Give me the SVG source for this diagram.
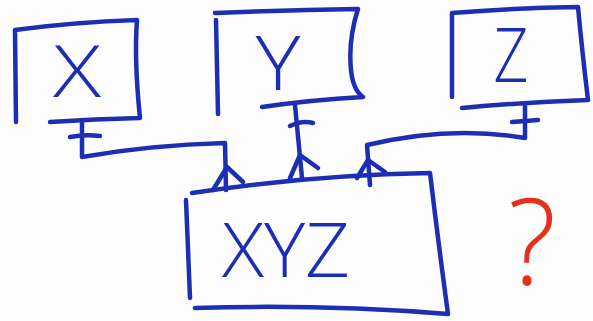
<svg xmlns="http://www.w3.org/2000/svg" width="593" height="321" viewBox="0 0 593 321">
<style>
.s{fill:none;stroke:#1c2fb4;stroke-width:4.5;stroke-linecap:round;stroke-linejoin:round}
.t{fill:#1c2fb4;font-family:"Open Sans","Liberation Sans",Arial,sans-serif;font-weight:300;text-anchor:middle}
.q{fill:#e5301c;font-family:"Open Sans","Liberation Sans",sans-serif;font-weight:300;text-anchor:middle}
</style>
<rect width="593" height="321" fill="#fdfdfd"/>
<g id="nodeX">
<path class="s" d="M16,122 L15,30 Q75,22 137,20 Q134,60 140,118 Q95,119 50,122"/>
<text class="t" x="77" y="97" font-size="72" textLength="48" lengthAdjust="spacingAndGlyphs">X</text>
</g>
<g id="nodeY">
<path class="s" d="M218,114 L216,20"/>
<path class="s" d="M215,13 Q290,10 358,9 Q348,40 351,70 Q353,90 363,97 Q310,100 262,107"/>
<text class="t" x="278" y="90" font-size="76" textLength="45" lengthAdjust="spacingAndGlyphs">Y</text>
</g>
<g id="nodeZ">
<path class="s" d="M452,97 L452,13 Q515,8 578,7 Q582,50 588,100 Q525,102 462,108"/>
<text class="t" x="511" y="82" font-size="75" textLength="35" lengthAdjust="spacingAndGlyphs">Z</text>
</g>
<g id="nodeXYZ">
<path class="s" d="M192,193 Q310,175 430,173 Q438,240 448,314 Q320,304 195,308"/>
<path class="s" d="M186,200 Q188,250 190,298"/>
<text class="t" x="286" y="277" font-size="76" textLength="128" lengthAdjust="spacingAndGlyphs">XYZ</text>
</g>
<g id="connectors">
<path class="s" d="M82,120 L82,157 Q150,145 225,143 L226,190"/>
<path class="s" d="M70,137 Q85,134 100,136"/>
<path class="s" d="M213,190 L227,167 L243,182"/>
<path class="s" d="M295,105 L302,178"/>
<path class="s" d="M290,126 Q302,120 313,123"/>
<path class="s" d="M290,178 L300,155 L318,168"/>
<path class="s" d="M525,106 L525,138 Q450,125 367,145 L370,185"/>
<path class="s" d="M512,122 L538,120"/>
<path class="s" d="M357,178 L368,160 L385,172"/>
</g>
<text class="q" x="532" y="285" font-size="120" textLength="48" lengthAdjust="spacingAndGlyphs">?</text>
</svg>
